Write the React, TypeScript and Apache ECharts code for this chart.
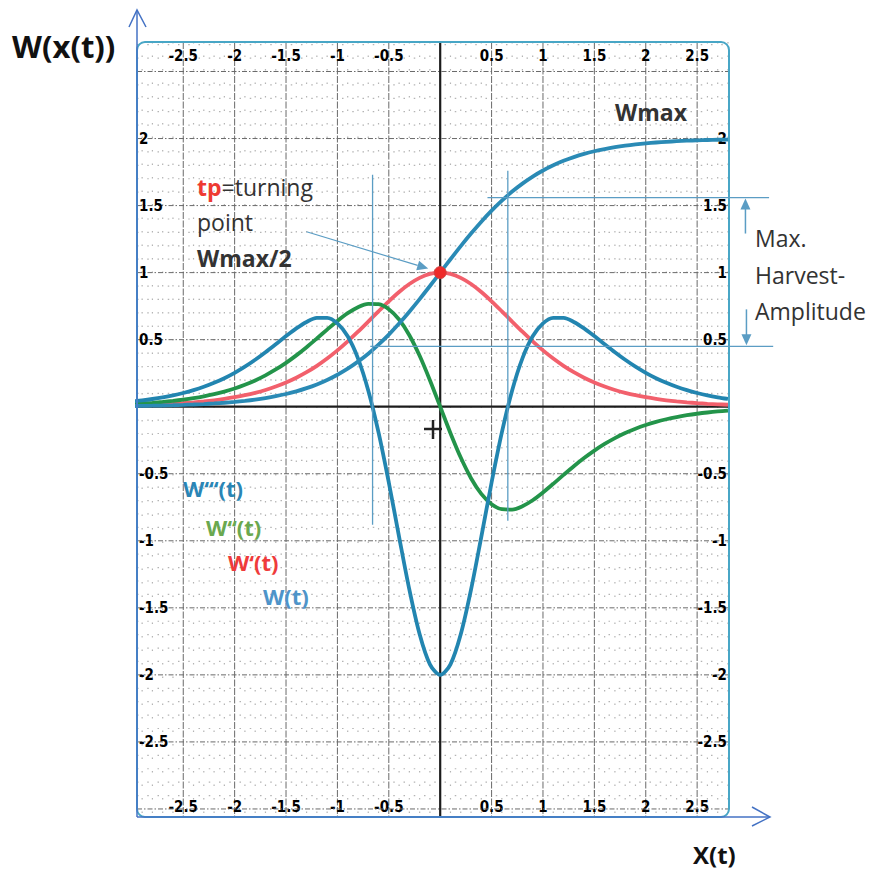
import React, { useEffect, useRef } from 'react';
import * as echarts from 'echarts';

// t values (x axis)
const tValues = [
  -3.0, -2.9, -2.8, -2.7, -2.6, -2.5, -2.4, -2.3, -2.2, -2.1, -2.0, -1.9, -1.8, -1.7, -1.6,
  -1.5, -1.4, -1.3, -1.2, -1.1, -1.0, -0.9, -0.8, -0.7, -0.6, -0.5, -0.4, -0.3, -0.2, -0.1,
  0.0, 0.1, 0.2, 0.3, 0.4, 0.5, 0.6, 0.7, 0.8, 0.9, 1.0, 1.1, 1.2, 1.3, 1.4, 1.5, 1.6, 1.7,
  1.8, 1.9, 2.0, 2.1, 2.2, 2.3, 2.4, 2.5, 2.6, 2.7, 2.8,
];
// W(t)
const wValues = [
  0.0049, 0.006, 0.0074, 0.009, 0.011, 0.0134, 0.0163, 0.0199, 0.0243, 0.0295, 0.036, 0.0438,
  0.0532, 0.0646, 0.0783, 0.0948, 0.1146, 0.1383, 0.1663, 0.1995, 0.2384, 0.2837, 0.336,
  0.3956, 0.463, 0.5379, 0.62, 0.7087, 0.8026, 0.9003, 1.0, 1.0997, 1.1974, 1.2913, 1.38,
  1.4621, 1.537, 1.6044, 1.664, 1.7163, 1.7616, 1.8005, 1.8337, 1.8617, 1.8854, 1.9052,
  1.9217, 1.9354, 1.9468, 1.9562, 1.964, 1.9705, 1.9757, 1.9801, 1.9837, 1.9866, 1.989,
  1.991, 1.9926,
];
// W'(t)
const w1Values = [
  0.0099, 0.0121, 0.0147, 0.0179, 0.0218, 0.0266, 0.0324, 0.0394, 0.0479, 0.0582, 0.0707,
  0.0856, 0.1036, 0.125, 0.1505, 0.1807, 0.2162, 0.2574, 0.305, 0.3592, 0.42, 0.4869, 0.5591,
  0.6347, 0.7116, 0.7864, 0.8556, 0.9151, 0.961, 0.9901, 1.0, 0.9901, 0.961, 0.9151, 0.8556,
  0.7864, 0.7116, 0.6347, 0.5591, 0.4869, 0.42, 0.3592, 0.305, 0.2574, 0.2162, 0.1807, 0.1505,
  0.125, 0.1036, 0.0856, 0.0707, 0.0582, 0.0479, 0.0394, 0.0324, 0.0266, 0.0218, 0.0179,
  0.0147,
];
// W''(t)
const w2Values = [
  0.0196, 0.024, 0.0292, 0.0355, 0.0432, 0.0525, 0.0637, 0.0772, 0.0935, 0.113, 0.1362,
  0.1637, 0.1961, 0.2339, 0.2775, 0.3271, 0.3828, 0.4437, 0.5086, 0.5751, 0.6397, 0.6975,
  0.7425, 0.7672, 0.7643, 0.7269, 0.6502, 0.5332, 0.3794, 0.1974, 0.0, -0.1974, -0.3794,
  -0.5332, -0.6502, -0.7269, -0.7643, -0.7672, -0.7425, -0.6975, -0.6397, -0.5751, -0.5086,
  -0.4437, -0.3828, -0.3271, -0.2775, -0.2339, -0.1961, -0.1637, -0.1362, -0.113, -0.0935,
  -0.0772, -0.0637, -0.0525, -0.0432, -0.0355, -0.0292,
];
// W'''(t)
const w3Values = [
  0.0389, 0.0473, 0.0575, 0.0697, 0.0844, 0.1022, 0.1233, 0.1483, 0.1779, 0.2126, 0.2527,
  0.2985, 0.3499, 0.4063, 0.4661, 0.5269, 0.5843, 0.6321, 0.6619, 0.6627, 0.6216, 0.5251,
  0.361, 0.1216, -0.1917, -0.5652, -0.9701, -1.3643, -1.6974, -1.9211, -2.0, -1.9211,
  -1.6974, -1.3643, -0.9701, -0.5652, -0.1917, 0.1216, 0.361, 0.5251, 0.6216, 0.6627, 0.6619,
  0.6321, 0.5843, 0.5269, 0.4661, 0.4063, 0.3499, 0.2985, 0.2527, 0.2126, 0.1779, 0.1483,
  0.1233, 0.1022, 0.0844, 0.0697, 0.0575,
];

const xTickValues = [-2.5, -2, -1.5, -1, -0.5, 0.5, 1, 1.5, 2, 2.5];
const xTickLabels = ['-2.5', '-2', '-1.5', '-1', '-0.5', '0.5', '1', '1.5', '2', '2.5'];
const yTickValues = [2, 1.5, 1, 0.5, -0.5, -1, -1.5, -2, -2.5];
const yTickLabels = ['2', '1.5', '1', '0.5', '-0.5', '-1', '-1.5', '-2', '-2.5'];
const xMajorValues = [-2.5, -2, -1.5, -1, -0.5, 0.5, 1, 1.5, 2, 2.5];
const yMajorValues = [-3, -2.5, -2, -1.5, -1, -0.5, 0.5, 1, 1.5, 2, 2.5];

// annotation values
const turnLeftT = -0.658;
const turnRightT = 0.658;
const harvestHigh = 1.56;
const harvestLow = 0.45;
const turningPoint = [0, 1];

const X_MIN = -2.95;
const X_MAX = 2.81;
const Y_MIN = -3.06;
const Y_MAX = 2.72;

type GridItem = { v: number; dir: 'x' | 'y'; kind: 'minor' | 'major' | 'axis'; label?: string };

function buildGrid(): GridItem[] {
  const items: GridItem[] = [];
  for (let k = -29; k <= 28; k++) {
    if (k % 5 !== 0) items.push({ v: k / 10, dir: 'x', kind: 'minor' });
  }
  for (let k = -30; k <= 27; k++) {
    if (k % 5 !== 0) items.push({ v: k / 10, dir: 'y', kind: 'minor' });
  }
  xMajorValues.forEach((v) => {
    const i = xTickValues.indexOf(v);
    items.push({ v, dir: 'x', kind: 'major', label: i >= 0 ? xTickLabels[i] : undefined });
  });
  yMajorValues.forEach((v) => {
    const i = yTickValues.indexOf(v);
    items.push({ v, dir: 'y', kind: 'major', label: i >= 0 ? yTickLabels[i] : undefined });
  });
  items.push({ v: 0, dir: 'x', kind: 'axis' });
  items.push({ v: 0, dir: 'y', kind: 'axis' });
  return items;
}

const tickText = (text: string, x: number, y: number, align: string) => ({
  type: 'text',
  style: {
    text,
    x,
    y,
    textAlign: align,
    verticalAlign: 'middle',
    fontFamily: '"Liberation Sans Narrow", "DejaVu Sans Condensed", "Liberation Sans", sans-serif',
    fontWeight: 'bold',
    fontSize: 15,
    fill: '#000',
  },
});

export default function App() {
  const ref = useRef<HTMLDivElement>(null);
  useEffect(() => {
    if (!ref.current) return;
    const chart = echarts.init(ref.current, undefined, { renderer: 'svg' });
    const gridItems = buildGrid();
    const pairs = (ys: number[]) => tValues.map((t, i) => [t, ys[i]]);

    const lineSeries = (name: string, ys: number[], color: string) => ({
      name,
      type: 'line',
      data: pairs(ys),
      smooth: 0.3,
      showSymbol: false,
      symbol: 'none',
      clip: true,
      z: 3,
      lineStyle: { color, width: 3.8 },
      silent: true,
    });

    chart.setOption({
      animation: false,
      grid: { left: 137, top: 42, right: 145, bottom: 54, containLabel: false },
      xAxis: {
        type: 'value',
        min: X_MIN,
        max: X_MAX,
        axisLine: { show: false },
        axisTick: { show: false },
        axisLabel: { show: false },
        splitLine: { show: false },
      },
      yAxis: {
        type: 'value',
        min: Y_MIN,
        max: Y_MAX,
        axisLine: { show: false },
        axisTick: { show: false },
        axisLabel: { show: false },
        splitLine: { show: false },
      },
      series: [
        {
          type: 'custom',
          silent: true,
          clip: false,
          z: 1,
          data: gridItems.map((g) => [g.v, 0]),
          renderItem: (params: any, api: any) => {
            const g = gridItems[params.dataIndex];
            const cs = params.coordSys;
            const p = api.coord([g.v, g.v]);
            const children: any[] = [];
            let style: any;
            if (g.kind === 'minor') style = { stroke: '#b4b4b4', lineWidth: 1.2, lineDash: [1.5, 11.9] };
            else if (g.kind === 'major')
              style =
                g.dir === 'x'
                  ? { stroke: '#6a6a6a', lineWidth: 1, lineDash: [7, 1.5] }
                  : { stroke: '#6a6a6a', lineWidth: 1, lineDash: [5, 2, 1.5, 2] };
            else style = { stroke: '#1c1c1c', lineWidth: 2.2 };
            if (g.dir === 'x') {
              children.push({
                type: 'line',
                shape: { x1: p[0], y1: cs.y, x2: p[0], y2: cs.y + cs.height },
                style: g.kind === 'minor' ? { ...style, lineDash: [1.5, 12] } : style,
              });
              if (g.label) {
                children.push(tickText(g.label, p[0], cs.y + 14, 'center'));
                children.push(tickText(g.label, p[0], cs.y + cs.height - 10, 'center'));
              }
            } else {
              children.push({
                type: 'line',
                shape: { x1: cs.x, y1: p[1], x2: cs.x + cs.width, y2: p[1] },
                style: g.kind === 'minor' ? { ...style, lineDash: [1.5, 8.75] } : style,
              });
              if (g.label) {
                children.push(tickText(g.label, cs.x + 2, p[1], 'left'));
                children.push(tickText(g.label, cs.x + cs.width - 2, p[1], 'right'));
              }
            }
            return { type: 'group', children };
          },
        },
        lineSeries("W'(t)", w1Values, '#f2606c'),
        lineSeries("W''(t)", w2Values, '#23944a'),
        lineSeries("W'''(t)", w3Values, '#2285b0'),
        lineSeries('W(t)', wValues, '#2a8ab5'),
      ],
    });

    const px = (x: number, y: number) => chart.convertToPixel({ gridIndex: 0 } as any, [x, y]) as number[];
    const tl = px(X_MIN, Y_MAX);
    const br = px(X_MAX, Y_MIN);
    const annoColor = '#5b9dc4';
    const arrowBlue = '#4472c4';

    const vl = (t: number, y1: number, y2: number) => {
      const a = px(t, y1);
      const b = px(t, y2);
      return { type: 'line', z: 20, shape: { x1: a[0], y1: a[1], x2: b[0], y2: b[1] }, style: { stroke: annoColor, lineWidth: 1.3 } };
    };
    const hl = (w: number, t1: number, t2: number) => {
      const a = px(t1, w);
      const b = px(t2, w);
      return { type: 'line', z: 20, shape: { x1: a[0], y1: a[1], x2: b[0], y2: b[1] }, style: { stroke: annoColor, lineWidth: 1.3 } };
    };

    const hi = px(2.97, harvestHigh);
    const lo = px(2.97, harvestLow);
    const tp = px(turningPoint[0], turningPoint[1]);
    const tpFrom = px(-1.3, 1.305);
    const tpTo = [tp[0] - 12, tp[1] - 4];
    const ang = Math.atan2(tpTo[1] - tpFrom[1], tpTo[0] - tpFrom[0]);
    const headLen = 11;
    const headW = 5;
    const hx = tpTo[0] - headLen * Math.cos(ang);
    const hy = tpTo[1] - headLen * Math.sin(ang);

    const textEl = (text: string, x: number, y: number, font: string, fill: string, align = 'left') => ({
      type: 'text',
      z: 30,
      style: { text, x, y, font, fill, textAlign: align, verticalAlign: 'middle' },
    });
    const OS = '"Open Sans", "DejaVu Sans", sans-serif';

    chart.setOption({
      graphic: [
        {
          type: 'rect',
          z: 15,
          shape: { x: tl[0], y: tl[1], width: br[0] - tl[0], height: br[1] - tl[1], r: 8 },
          style: { fill: 'none', stroke: '#48a6c6', lineWidth: 2 },
        },
        // axis arrows
        { type: 'line', z: 16, shape: { x1: tl[0], y1: br[1], x2: tl[0], y2: 10 }, style: { stroke: arrowBlue, lineWidth: 1.5 } },
        { type: 'polyline', z: 16, shape: { points: [[tl[0] - 8, 27], [tl[0], 10], [tl[0] + 9, 27]] }, style: { stroke: arrowBlue, lineWidth: 1.5, fill: 'none' } },
        { type: 'line', z: 16, shape: { x1: tl[0], y1: br[1], x2: 770, y2: br[1] }, style: { stroke: arrowBlue, lineWidth: 1.5 } },
        { type: 'polyline', z: 16, shape: { points: [[752, br[1] - 10], [770, br[1]], [752, br[1] + 9]] }, style: { stroke: arrowBlue, lineWidth: 1.5, fill: 'none' } },
        // turning lines
        vl(turnLeftT, 1.73, -0.88),
        vl(turnRightT, 1.76, -0.85),
        hl(harvestHigh, 0.46, 3.2),
        hl(harvestLow, -0.68, 3.24),
        // harvest arrows
        { type: 'line', z: 20, shape: { x1: hi[0], y1: hi[1] + 36, x2: hi[0], y2: hi[1] + 8 }, style: { stroke: annoColor, lineWidth: 1.5 } },
        { type: 'polygon', z: 20, shape: { points: [[hi[0], hi[1] + 1], [hi[0] - 5, hi[1] + 12], [hi[0] + 5, hi[1] + 12]] }, style: { fill: annoColor } },
        { type: 'line', z: 20, shape: { x1: lo[0] + 1, y1: lo[1] - 37, x2: lo[0] + 1, y2: lo[1] - 9 }, style: { stroke: annoColor, lineWidth: 1.5 } },
        { type: 'polygon', z: 20, shape: { points: [[lo[0] + 1, lo[1] - 1], [lo[0] - 4, lo[1] - 12], [lo[0] + 6, lo[1] - 12]] }, style: { fill: annoColor } },
        // tp arrow
        { type: 'line', z: 20, shape: { x1: tpFrom[0], y1: tpFrom[1], x2: hx, y2: hy }, style: { stroke: annoColor, lineWidth: 1.2 } },
        {
          type: 'polygon',
          z: 20,
          shape: {
            points: [
              [tpTo[0], tpTo[1]],
              [hx + headW * Math.sin(ang), hy - headW * Math.cos(ang)],
              [hx - headW * Math.sin(ang), hy + headW * Math.cos(ang)],
            ],
          },
          style: { fill: annoColor },
        },
        // turning point dot
        { type: 'circle', z: 25, shape: { cx: tp[0], cy: tp[1], r: 6 }, style: { fill: '#ee2a2a', stroke: '#d04040', lineWidth: 1 } },
        // plus cursor
        { type: 'line', z: 25, shape: { x1: 424, y1: 429, x2: 442, y2: 429 }, style: { stroke: '#222', lineWidth: 2.5 } },
        { type: 'line', z: 25, shape: { x1: 433, y1: 420, x2: 433, y2: 439 }, style: { stroke: '#222', lineWidth: 2.5 } },
        // texts
        textEl('W(x(t))', 12, 46, `bold 31px ${OS}`, '#111'),
        textEl('X(t)', 693, 854, `bold 24px ${OS}`, '#111'),
        textEl('Wmax', 615, 112, `bold 23px ${OS}`, '#333'),
        {
          type: 'text',
          z: 30,
          style: {
            text: '{r|tp}{a|=turning}',
            x: 197,
            y: 187,
            verticalAlign: 'middle',
            rich: {
              r: { fill: '#ee3a32', fontWeight: 'bold', fontSize: 23, fontFamily: OS },
              a: { fill: '#333', fontWeight: 'normal', fontSize: 23, fontFamily: OS },
            },
          },
        },
        textEl('point', 197, 222, `23px ${OS}`, '#333'),
        textEl('Wmax/2', 197, 258, `bold 23px ${OS}`, '#333'),
        textEl('Max.', 755, 238, `23px ${OS}`, '#333'),
        textEl('Harvest-', 755, 275, `23px ${OS}`, '#333'),
        textEl('Amplitude', 755, 311, `23px ${OS}`, '#333'),
        textEl('W‘‘‘(t)', 183, 488, `bold 22px ${OS}`, '#2a85b5'),
        textEl('W‘‘(t)', 206, 527, `bold 22px ${OS}`, '#6aa84f'),
        textEl('W‘(t)', 228, 562, `bold 22px ${OS}`, '#ef3b3b'),
        textEl('W(t)', 263, 596, `bold 22px ${OS}`, '#4e94c9'),
      ],
    });

    return () => chart.dispose();
  }, []);
  return <div ref={ref} style={{ position: 'absolute', left: 0, top: 0, width: 874, height: 871 }} />;
}
